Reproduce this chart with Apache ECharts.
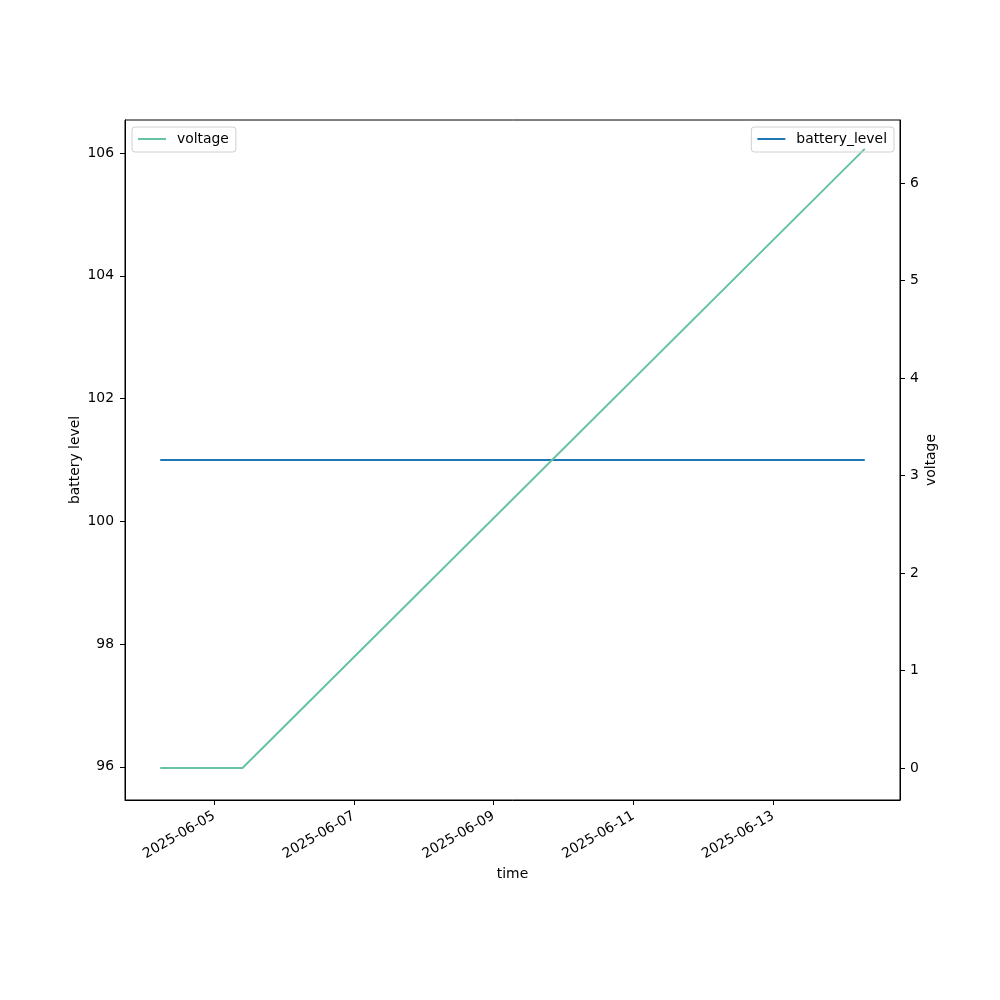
<!DOCTYPE html>
<html>
<head>
<meta charset="utf-8">
<script src="https://cdn.jsdelivr.net/npm/echarts@6/dist/echarts.min.js"></script>
<style>html,body{margin:0;padding:0;background:#fff}#c{width:1000px;height:1000px}</style>
</head>
<body>
<div id="c"></div>
<script>
// ---- data ----
var times = ['2025-06-04T05:30:00Z', '2025-06-05T09:45:00Z', '2025-06-14T07:30:00Z'];
var voltage = [0, 0, 6.35];
var batteryLevel = [101, 101, 101];
var xTickDates = ['2025-06-05', '2025-06-07', '2025-06-09', '2025-06-11', '2025-06-13'];
var leftTicks = [96, 98, 100, 102, 104, 106];
var rightTicks = [0, 1, 2, 3, 4, 5, 6];

var ts = times.map(function (t) { return Date.parse(t); });
var xTicks = xTickDates.map(function (d) { return Date.parse(d + 'T00:00:00Z'); });
var span = ts[ts.length - 1] - ts[0];
var xMin = ts[0] - 0.05 * span, xMax = ts[ts.length - 1] + 0.05 * span;

function pad(n) { return (n < 10 ? '0' : '') + n; }
function fmtDate(v) {
  var d = new Date(v);
  return d.getUTCFullYear() + '-' + pad(d.getUTCMonth() + 1) + '-' + pad(d.getUTCDate());
}

var FONT = 'DejaVu Sans';
var FS = 13.9;

var chart = echarts.init(document.getElementById('c'), null, { renderer: 'canvas' });
chart.setOption({
  animation: false,
  backgroundColor: '#fff',
  textStyle: { fontFamily: FONT },
  grid: { left: 125, right: 100, top: 120, bottom: 200, show: true, borderColor: '#000', borderWidth: 1, backgroundColor: 'transparent' },
  legend: [
    {
      data: ['voltage'], left: 132, top: 127, orient: 'vertical',
      icon: 'rect', itemWidth: 28, itemHeight: 2, itemGap: 10,
      padding: [5, 7, 6, 6], borderColor: '#d0d0d0', borderWidth: 1, borderRadius: 3,
      textStyle: { fontFamily: FONT, fontSize: FS, color: '#000', padding: [0, 0, 0, 6] }
    },
    {
      data: ['battery_level'], right: 106, top: 127, orient: 'vertical',
      icon: 'rect', itemWidth: 28, itemHeight: 2, itemGap: 10,
      padding: [5, 7, 6, 6], borderColor: '#d0d0d0', borderWidth: 1, borderRadius: 3,
      textStyle: { fontFamily: FONT, fontSize: FS, color: '#000', padding: [0, 0, 0, 6] }
    }
  ],
  xAxis: {
    type: 'value', min: xMin, max: xMax,
    name: 'time', nameLocation: 'middle', nameGap: 67, nameMoveOverlap: false,
    nameTextStyle: { fontFamily: FONT, fontSize: FS, color: '#000' },
    splitLine: { show: false },
    axisLine: { show: true, onZero: false, lineStyle: { color: '#000', width: 1 } },
    axisTick: { show: true, inside: false, length: 5, lineStyle: { color: '#000', width: 1 }, customValues: xTicks },
    axisLabel: { rotate: 30, margin: 15, fontFamily: FONT, fontSize: FS, color: '#000', customValues: xTicks, formatter: fmtDate }
  },
  yAxis: [
    {
      type: 'value', min: 95.46, max: 106.54, position: 'left',
      name: 'battery level', nameLocation: 'middle', nameGap: 43, nameRotate: 90, nameMoveOverlap: false,
      nameTextStyle: { fontFamily: FONT, fontSize: FS, color: '#000' },
      splitLine: { show: false },
      axisLine: { show: true, onZero: false, lineStyle: { color: '#000', width: 1 } },
      axisTick: { show: true, length: 5, lineStyle: { color: '#000' }, customValues: leftTicks },
      axisLabel: { margin: 11, fontFamily: FONT, fontSize: FS, color: '#000', customValues: leftTicks }
    },
    {
      type: 'value', min: -0.328, max: 6.646, position: 'right',
      name: 'voltage', nameLocation: 'middle', nameGap: 24, nameRotate: 90, nameMoveOverlap: false,
      nameTextStyle: { fontFamily: FONT, fontSize: FS, color: '#000' },
      splitLine: { show: false },
      axisLine: { show: true, onZero: false, lineStyle: { color: '#000', width: 1 } },
      axisTick: { show: true, length: 5, lineStyle: { color: '#000' }, customValues: rightTicks },
      axisLabel: { margin: 10, fontFamily: FONT, fontSize: FS, color: '#000', customValues: rightTicks }
    }
  ],
  series: [
    {
      name: 'battery_level', type: 'line', yAxisIndex: 0,
      data: ts.map(function (t, i) { return [t, batteryLevel[i]]; }),
      showSymbol: false, symbol: 'none', color: '#1f77b4',
      lineStyle: { color: '#1f77b4', width: 2 }
    },
    {
      name: 'voltage', type: 'line', yAxisIndex: 1,
      data: ts.map(function (t, i) { return [t, voltage[i]]; }),
      showSymbol: false, symbol: 'none', color: '#66c2a5',
      lineStyle: { color: '#66c2a5', width: 2 }
    }
  ]
});
</script>
</body>
</html>
